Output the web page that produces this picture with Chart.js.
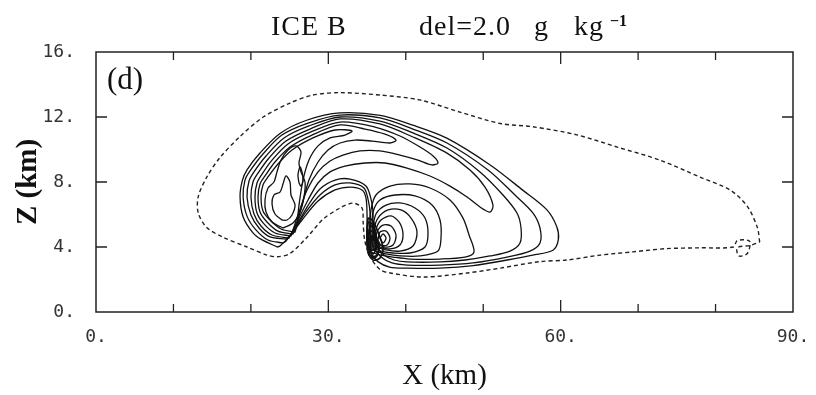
<!DOCTYPE html>
<html>
<head>
<meta charset="utf-8">
<script src="https://cdn.jsdelivr.net/npm/chart.js@4.4.1/dist/chart.umd.min.js"></script>
<style>
  html, body { margin: 0; padding: 0; background: #fff; }
  #wrap { width: 816px; height: 395px; }
</style>
</head>
<body>
<div id="wrap"><canvas id="c" width="816" height="395"></canvas></div>
<script>
// Axis ranges and tick values (km)
const xRange = [0, 90];
const zRange = [0, 16];
const xTickValues = [0, 10, 20, 30, 40, 50, 60, 70, 80, 90];
const xLabelledTicks = [0, 30, 60, 90];
const zTickValues = [0, 4, 8, 12, 16];

// Outermost (lowest) contour, drawn dashed: [x km, z km]
const outerDashed = [
  [85.7,4.3],[85.4,5.2],[84.1,6.5],[81.9,7.5],[78.0,8.3],[72.8,9.35],[67.3,10.15],[62.1,10.9],
  [56.4,11.4],[52.2,11.6],[47.0,12.3],[41.8,13.05],[36.7,13.35],[31.5,13.5],[28.0,13.35],
  [25.05,12.86],[21.6,12.0],[18.6,10.8],[16.0,9.5],[14.3,8.3],[13.2,7.1],[13.2,6.1],[14.3,5.2],
  [16.4,4.6],[19.5,4.0],[22.1,3.5],[23.4,3.4],[25.05,3.6],[27.25,4.6],[29.3,5.7],[31.5,6.4],
  [33.2,6.7],[34.35,6.4],[34.5,5.5],[34.7,4.4],[35.4,3.4],[36.7,2.6],[38.0,2.4],[42.2,2.15],
  [47.9,2.4],[52.2,2.7],[57.3,3.1],[60.8,3.2],[65.1,3.5],[69.3,3.7],[73.7,3.9],[78.0,3.95],
  [82.3,4.0],[82.8,4.4],[84.4,4.35],[84.1,3.6],[83.0,3.45],[82.8,3.95],[84.5,4.1],[85.7,4.3]
];

// Comma-shaped contours that wrap around the vortex
const commaA = [
  [23.4,4.0],[21.4,4.45],[20.3,4.85],[19.0,5.85],[18.6,7.1],[18.9,8.1],[19.5,8.75],[21.2,9.8],
  [23.8,11.0],[27.2,11.8],[31.5,12.25],[36.7,12.1],[40.9,11.5],[45.3,10.7],[50.9,9.05],[55.1,7.5],
  [58.2,6.3],[59.5,5.25],[59.7,4.45],[59.0,3.8],[56.4,3.5],[53.1,3.2],[48.7,2.85],[44.4,2.7],
  [40.2,2.7],[38.0,2.75],[36.4,3.1],[35.4,3.7],[35.0,4.55],[35.0,6.0],[34.86,7.02],[34.35,7.51],
  [32.8,7.69],[30.86,7.51],[28.67,6.83],[26.6,5.66],[25.05,4.68],[23.76,4.06]
];
const commaB = [
  [24.15,4.25],[22.2,4.43],[20.65,5.05],[19.5,5.9],[19.0,7.08],[19.24,8.12],[19.89,8.68],[21.56,9.72],
  [24.0,10.89],[27.38,11.63],[31.5,12.12],[36.67,11.94],[40.93,11.26],[45.32,10.4],[50.62,8.74],
  [54.1,7.2],[56.43,6.09],[57.33,5.17],[57.33,4.25],[56.04,3.75],[53.07,3.38],[48.68,3.02],
  [44.42,2.89],[40.16,2.89],[38.22,3.02],[36.8,3.38],[35.77,4.06],[35.38,5.05],[35.38,6.15],
  [35.12,6.95],[34.6,7.63],[32.8,7.94],[30.86,7.82],[28.92,7.2],[26.99,6.09],[25.57,5.05],[24.53,4.37]
];
const commaC = [
  [24.53,4.49],[22.47,4.62],[21.05,5.17],[20.01,5.97],[19.5,7.08],[19.76,8.06],[20.4,8.62],[21.95,9.6],
  [24.28,10.71],[27.5,11.45],[31.5,12.0],[36.67,11.75],[40.93,11.02],[45.32,10.09],[49.58,8.62],
  [52.55,7.2],[54.36,6.09],[54.88,5.17],[54.75,4.25],[53.46,3.75],[50.88,3.45],[47.65,3.2],
  [44.42,3.08],[40.16,3.08],[38.48,3.2],[37.19,3.51],[36.15,4.12],[35.77,5.05],[35.77,6.15],
  [35.51,6.95],[34.86,7.75],[32.8,8.18],[30.86,8.12],[28.92,7.57],[27.25,6.46],[25.83,5.29],[24.92,4.62]
];

// Upper-band contours ending in tongues
const tongueA = [
  [24.92,4.55],[22.73,4.74],[21.31,5.29],[20.4,6.03],[20.01,7.08],[20.27,8.0],[20.92,8.55],[22.34,9.48],
  [24.53,10.52],[27.63,11.26],[31.51,11.88],[36.67,11.57],[40.93,10.77],[45.32,9.78],[48.29,8.74],
  [50.23,7.69],[51.26,6.58],[50.88,6.15],[49.58,6.46],[47.91,7.08],[45.71,7.75],[43.13,8.37],
  [40.16,8.86],[37.32,9.17],[34.73,9.17],[32.15,8.98],[30.22,8.62],[28.67,7.94],[27.38,6.89],
  [26.08,5.66],[25.18,4.8]
];
const tongueB = [
  [25.18,4.68],[23.11,4.86],[21.69,5.42],[20.79,6.09],[20.53,7.08],[20.79,7.94],[21.44,8.49],[22.73,9.35],
  [24.79,10.34],[27.76,11.08],[31.51,11.69],[36.03,11.38],[39.25,10.83],[41.84,10.15],[43.52,9.6],
  [44.16,9.17],[43.39,9.05],[41.58,9.35],[39.25,9.66],[36.67,9.91],[34.09,9.91],[31.89,9.66],
  [30.22,9.29],[28.67,8.62],[27.25,7.51],[26.21,6.15],[25.44,5.05]
];
const tongueC = [
  [25.44,4.8],[23.5,4.98],[22.08,5.54],[21.18,6.15],[20.92,7.08],[21.18,7.88],[21.82,8.37],[23.11,9.23],
  [25.05,10.15],[27.89,10.89],[31.51,11.51],[34.73,11.26],[37.32,10.95],[38.74,10.58],[37.96,10.4],
  [35.64,10.52],[33.44,10.58],[31.51,10.4],[29.96,9.97],[28.67,9.23],[27.5,8.12],[26.6,6.58],[25.83,5.23]
];
const tongueD = [
  [25.7,4.92],[23.89,5.11],[22.47,5.66],[21.56,6.22],[21.31,7.08],[21.56,7.82],[22.21,8.31],[23.5,9.11],
  [25.31,9.97],[28.02,10.71],[30.86,11.2],[33.06,11.14],[32.15,10.89],[30.22,10.71],[28.67,10.22],
  [27.5,9.35],[26.73,8.12],[26.21,6.58],[25.95,5.35]
];

// Inner contours of the left lobe
const lobeA = [
  [24.15,5.17],[22.73,5.54],[21.95,6.15],[21.82,6.89],[22.21,7.63],[22.98,8.0],[23.37,8.62],[23.89,9.35],
  [24.79,9.97],[25.83,10.22],[26.47,9.85],[26.21,9.17],[26.47,8.62],[26.99,8.0],[26.86,7.08],
  [26.34,6.15],[25.44,5.48]
];
const lobeB = [
  [24.02,5.66],[23.11,6.03],[22.73,6.65],[22.98,7.2],[23.76,7.38],[24.15,7.88],[24.53,8.37],[25.05,8.0],
  [25.18,7.2],[25.7,6.58],[25.31,5.97],[24.66,5.66]
];
const lobeC = [[26.21,7.94],[26.08,8.43],[26.34,8.92],[26.6,8.62],[26.73,8.12],[26.47,7.75]];

// Closed contours around the vortex near x = 36 km, z = 4.5 km
const ring1 = [
  [35.51,3.69],[35.38,5.05],[35.51,6.28],[36.15,7.2],[37.96,7.75],[40.55,7.88],[43.13,7.63],[45.71,6.89],
  [47.39,5.78],[48.17,4.74],[48.81,3.69],[47.65,3.38],[44.42,3.26],[40.55,3.26],[38.35,3.38],[36.67,3.51]
];
const ring2 = [
  [35.64,3.82],[35.64,5.05],[35.77,6.15],[36.67,6.89],[38.61,7.2],[41.19,7.14],[43.39,6.58],[44.42,5.66],
  [44.55,4.55],[44.16,3.75],[41.84,3.45],[39.25,3.45],[37.45,3.57]
];
const ring3 = [
  [35.77,3.94],[35.77,5.05],[36.15,6.03],[37.45,6.58],[39.25,6.71],[41.19,6.4],[42.48,5.78],[42.87,4.86],
  [42.48,4.0],[40.55,3.63],[38.35,3.63],[36.8,3.75]
];
const ring4 = [
  [35.9,4.06],[35.9,5.05],[36.41,5.78],[37.71,6.28],[39.38,6.28],[40.68,5.78],[41.45,4.92],[40.93,4.06],
  [39.25,3.75],[37.45,3.82]
];
const ring5 = [
  [36.03,4.18],[36.15,5.05],[36.8,5.66],[38.09,5.91],[39.13,5.54],[39.64,4.8],[39.25,4.12],[37.96,3.88],[36.67,4.0]
];
const ring6 = [[36.15,4.31],[36.28,4.92],[37.06,5.35],[38.09,5.29],[38.74,4.74],[38.35,4.12],[37.19,4.0]];
const ring7 = [[36.41,4.43],[36.67,4.92],[37.45,4.98],[37.96,4.55],[37.58,4.12],[36.8,4.12]];
const ring8 = [[36.67,4.55],[37.06,4.8],[37.45,4.55],[37.06,4.25]];

// Tightly packed loops in the vortex core
const core1 = [[35.12,5.54],[34.99,4.43],[35.25,3.51],[36.03,3.32],[36.54,3.82],[36.15,4.74],[35.64,5.42]];
const core2 = [[35.25,5.05],[35.25,3.94],[35.77,3.57],[36.28,4.06],[35.9,4.86]];
const core3 = [[35.51,4.68],[35.51,3.82],[36.03,3.88],[35.9,4.55]];
const core4 = [[35.12,5.78],[34.99,4.74],[35.12,3.69],[35.77,3.2],[36.67,3.32],[37.06,3.94],[36.41,4.92],[35.64,5.66]];
const core5 = [[35.25,4.43],[35.38,3.51],[36.15,3.45],[36.54,4.06],[35.9,4.55]];
const core6 = [[35.38,5.35],[35.25,4.55],[35.77,4.43],[36.03,5.05]];

const solidContours = [
  commaA, commaB, commaC, tongueA, tongueB, tongueC, tongueD,
  lobeA, lobeB, lobeC,
  ring1, ring2, ring3, ring4, ring5, ring6, ring7, ring8
];
const coreContours = [core1, core2, core3, core4, core5, core6];

// Repeat the first vertex so each contour is drawn as a closed loop
function closeLoop(points) {
  return points.concat([points[0]]);
}

function solidSet(pts, width) {
  return {
    data: closeLoop(pts),
    showLine: true,
    borderColor: '#111',
    borderWidth: width,
    pointRadius: 0,
    tension: 0.3,
    fill: false,
    borderJoinStyle: 'round',
    borderCapStyle: 'round'
  };
}

const datasets = [{
  data: outerDashed,
  showLine: true,
  borderColor: '#222',
  borderWidth: 1.4,
  borderDash: [4, 3],
  pointRadius: 0,
  tension: 0.3,
  fill: false
}]
  .concat(solidContours.map(pts => solidSet(pts, 1.3)))
  .concat(coreContours.map(pts => solidSet(pts, 1.7)));

// Frame, inward tick marks, panel letter and heading
const framePlugin = {
  id: 'frame',
  afterDatasetsDraw(chart) {
    const { ctx, chartArea: a, scales: { x, y } } = chart;
    ctx.save();
    ctx.strokeStyle = '#222';
    ctx.lineWidth = 1.5;
    ctx.strokeRect(a.left, a.top, a.right - a.left, a.bottom - a.top);

    ctx.lineWidth = 1.3;
    ctx.beginPath();
    xTickValues.forEach(v => {
      if (v === xRange[0] || v === xRange[1]) return;
      const px = x.getPixelForValue(v);
      const len = xLabelledTicks.includes(v) ? 12 : 8;
      ctx.moveTo(px, a.bottom); ctx.lineTo(px, a.bottom - len);
      ctx.moveTo(px, a.top); ctx.lineTo(px, a.top + len);
    });
    zTickValues.forEach(v => {
      if (v === zRange[0] || v === zRange[1]) return;
      const py = y.getPixelForValue(v);
      ctx.moveTo(a.left, py); ctx.lineTo(a.left + 11, py);
      ctx.moveTo(a.right, py); ctx.lineTo(a.right - 11, py);
    });
    ctx.stroke();

    ctx.fillStyle = '#111';
    ctx.textBaseline = 'alphabetic';
    ctx.textAlign = 'left';
    ctx.font = '31px "Liberation Serif"';
    ctx.fillText('(d)', a.left + 11, a.top + 37);

    ctx.font = '28px "Liberation Serif"';
    ctx.letterSpacing = '1px';
    ctx.fillText('ICE B', 271, 35);
    ctx.fillText('del=2.0', 419, 35);
    ctx.fillText('g', 534, 35);
    ctx.fillText('kg', 574, 35);
    ctx.letterSpacing = '0px';
    ctx.font = 'bold 16px "Liberation Serif"';
    ctx.fillText('\u22121', 610, 26);
    ctx.restore();
  }
};

new Chart(document.getElementById('c'), {
  type: 'scatter',
  data: { datasets },
  options: {
    responsive: false,
    animation: false,
    devicePixelRatio: 1,
    layout: { padding: { left: 0, right: 23, top: 52, bottom: 0 } },
    plugins: { legend: { display: false }, tooltip: { enabled: false }, title: { display: false } },
    scales: {
      x: {
        type: 'linear',
        min: xRange[0], max: xRange[1],
        grid: { display: false, drawTicks: false },
        border: { display: false },
        afterBuildTicks: s => { s.ticks = xTickValues.map(v => ({ value: v })); },
        afterFit: s => { s.height = 83; s.paddingLeft = 0; s.paddingRight = 0; },
        ticks: {
          autoSkip: false, maxRotation: 0, padding: 15,
          color: '#333',
          font: { family: '"DejaVu Sans Mono"', size: 18 },
          callback: v => xLabelledTicks.includes(v) ? v + '.' : ''
        },
        title: {
          display: true, text: 'X (km)', color: '#111',
          font: { family: '"Liberation Serif"', size: 29 },
          padding: { top: 0, bottom: 1 }
        }
      },
      y: {
        type: 'linear',
        min: zRange[0], max: zRange[1],
        grid: { display: false, drawTicks: false },
        border: { display: false },
        afterBuildTicks: s => { s.ticks = zTickValues.map(v => ({ value: v })); },
        afterFit: s => { s.width = 96; s.paddingTop = 0; s.paddingBottom = 0; },
        ticks: {
          padding: 21,
          color: '#333',
          font: { family: '"DejaVu Sans Mono"', size: 18 },
          callback: v => v + '.'
        },
        title: {
          display: true, text: 'Z (km)', color: '#111',
          font: { family: '"Liberation Serif"', size: 29, weight: 'bold' },
          padding: { top: 11, bottom: 0 }
        }
      }
    }
  },
  plugins: [framePlugin]
});
</script>
</body>
</html>
